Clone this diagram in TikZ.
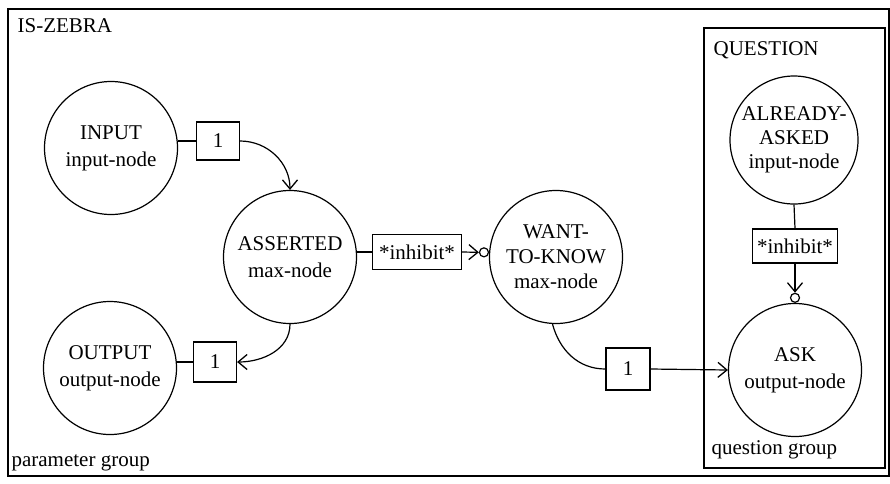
\documentclass[tikz,border=0pt]{standalone}
\usepackage{fontspec}
\setmainfont{Liberation Serif}
\usetikzlibrary{arrows.meta}
\begin{document}
\begin{tikzpicture}[x=1pt,y=-1pt,line width=1.2pt,
  every node/.style={font=\fontsize{21}{27}\selectfont},
  unit/.style={circle,draw,minimum size=133pt,inner sep=0pt,align=center},
  wbox/.style={draw,rectangle,inner sep=0pt,minimum height=38pt},
  dot/.style={circle,draw,fill=white,minimum size=9pt,inner sep=0pt},
  arr/.style={-{Straight Barb[length=9pt,width=15pt,line width=1.3pt]}},
  lbl/.style={anchor=base west,inner sep=0pt}]
\useasboundingbox (0,0) rectangle (890,483);
% frames
\draw (8,9) rectangle (889,476);
\draw (704,28) rectangle (885,468);
\node[lbl] (tzebra) at (17,32) {IS-ZEBRA};
\node[lbl] (tparam) at (11,466) {parameter group};
\node[lbl] (tquest) at (713,55) {QUESTION};
\node[lbl] (tqgroup) at (711,454) {question group};
% units
\node[unit] (input) at (111,148) {INPUT\\input-node};
\node[unit] (output) at (110,368) {OUTPUT\\output-node};
\node[unit] (asserted) at (290,257) {ASSERTED\\max-node};
\node[unit,font=\fontsize{21}{25}\selectfont] (want) at (556,257) {WANT-\\TO-KNOW\\max-node};
\node[unit,minimum size=128pt,font=\fontsize{21}{24}\selectfont] (already) at (794,140) {ALREADY-\\ASKED\\input-node};
\node[unit] (ask) at (795,370) {ASK\\output-node};
% weight boxes
\node[wbox,minimum width=43pt] (b1) at (218,141) {1};
\node[wbox,minimum width=43pt,minimum height=40pt] (b2) at (215,362) {1};
\node[wbox,minimum width=44pt,minimum height=42pt] (b3) at (628,369) {1};
\node[wbox,minimum width=89pt,minimum height=35pt] (inh1) at (417,252) {*inhibit*};
\node[wbox,minimum width=85pt,minimum height=34pt] (inh2) at (795,246) {*inhibit*};
% inhibitory end circles
\node[dot,anchor=east] (c1) at (want.176) {};
\node[dot,anchor=south] (c2) at (ask.north) {};
% connectors
\draw (input.east |- b1.west) -- (b1.west);
\draw[arr] (b1.east) to[out=0,in=90] (asserted.north);
\draw[arr] (asserted.south) to[out=-90,in=0] (b2.east);
\draw (output.east |- b2.west) -- (b2.west);
\draw (asserted.east |- inh1.west) -- (inh1.west);
\draw[arr] (inh1.east) -- (c1.west);
\draw (want.-93) to[out=-75,in=180] (b3.west);
\draw[arr] (b3.east) -- (ask.west);
\draw (already.south) -- (inh2.north);
\draw[arr] (inh2.south) -- (c2.north);
\end{tikzpicture}
\end{document}
